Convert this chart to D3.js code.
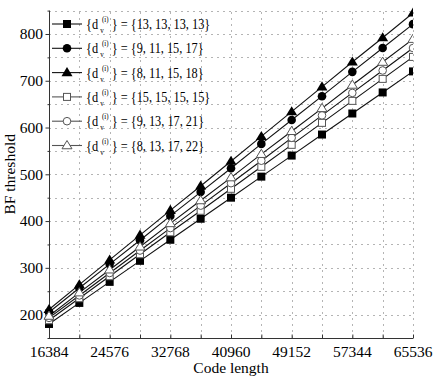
<!DOCTYPE html>
<html>
<head>
<meta charset="utf-8">
<script src="https://cdn.jsdelivr.net/npm/d3@7"></script>
<style>
  body { margin: 0; background: #fff; }
  text { font-family: "Liberation Serif", "Times New Roman", serif; }
</style>
</head>
<body>
<svg id="chart" width="436" height="382"></svg>
<script>
const codeLengths = [16384, 20480, 24576, 28672, 32768, 36864, 40960, 45056, 49152, 53248, 57344, 61440, 65536]
const xTickLabels = [16384, 24576, 32768, 40960, 49152, 57344, 65536]
const yTickLabels = [200, 300, 400, 500, 600, 700, 800]

const dv13 = [180, 225, 270, 315, 360, 405, 450, 495, 540, 585, 630, 675, 720]
const dv9_11 = [205, 257, 308, 359, 411, 462, 513, 565, 616, 667, 719, 770, 821]
const dv8_11 = [211, 264, 317, 370, 423, 475, 528, 581, 634, 687, 740, 792, 845]
const dv15 = [188, 235, 282, 329, 376, 422, 469, 516, 563, 610, 657, 704, 751]
const dv9_13 = [193, 241, 289, 337, 385, 433, 481, 529, 578, 626, 674, 722, 770]
const dv8_13 = [197, 247, 296, 345, 395, 444, 493, 543, 592, 641, 691, 740, 789]

const seriesNames = ["13, 13, 13, 13", "9, 11, 15, 17", "8, 11, 15, 18", "15, 15, 15, 15", "9, 13, 17, 21", "8, 13, 17, 22"]
const seriesValues = [dv13, dv9_11, dv8_11, dv15, dv9_13, dv8_13]
const markers = ["square", "circle", "triangle", "square-open", "circle-open", "triangle-open"]

const margin = { left: 49, right: 23, top: 10.6, bottom: 44 }
const width = 436, height = 382

const svg = d3.select("#chart")
const x = d3.scaleLinear().domain([16384, 65536]).range([margin.left, width - margin.right])
const y = d3.scaleLinear().domain([150, 850]).range([height - margin.bottom, margin.top])

// grid
const grid = svg.append("g")
  .attr("stroke", "#b4b4b4")
  .attr("stroke-width", 1)
  .attr("stroke-dasharray", "2,4")
grid.selectAll("line.gx")
  .data(d3.range(16384 + 4096, 65536 + 1, 4096))
  .join("line")
  .attr("x1", d => Math.round(x(d)) + 0.5)
  .attr("x2", d => Math.round(x(d)) + 0.5)
  .attr("y1", y(150))
  .attr("y2", y(850))
grid.selectAll("line.gy")
  .data(d3.range(200, 851, 50))
  .join("line")
  .attr("class", "gy")
  .attr("x1", x(16384))
  .attr("x2", x(65536))
  .attr("y1", d => Math.round(y(d)) + 0.5)
  .attr("y2", d => Math.round(y(d)) + 0.5)

// axes
const xAxis = svg.append("g")
  .attr("transform", `translate(0,${Math.round(y(150)) + 0.5})`)
  .call(d3.axisBottom(x).tickValues(d3.range(16384, 65537, 4096)).tickSize(-4).tickFormat(""))
xAxis.selectAll("line, path").attr("stroke", "#333")
xAxis.select(".domain").attr("d", `M${x(16384)},0H${x(65536)}`)

svg.append("g")
  .selectAll("text")
  .data(xTickLabels)
  .join("text")
  .attr("x", d => x(d))
  .attr("y", y(150) + 19)
  .attr("text-anchor", "middle")
  .attr("font-size", 15.5)
  .text(d => d)

const yAxis = svg.append("g")
  .attr("transform", `translate(${Math.round(x(16384)) + 0.5},0)`)
  .call(d3.axisLeft(y).tickValues(d3.range(150, 851, 50)).tickSize(4).tickFormat(""))
yAxis.selectAll("line, path").attr("stroke", "#333")
yAxis.selectAll(".tick line").attr("x2", d => d % 100 === 0 ? -4 : -2)
yAxis.select(".domain").attr("d", `M0,${y(150)}V${y(850)}`)

svg.append("g")
  .selectAll("text")
  .data(yTickLabels)
  .join("text")
  .attr("x", x(16384) - 6)
  .attr("y", d => y(d))
  .attr("dy", "0.35em")
  .attr("text-anchor", "end")
  .attr("font-size", 15.5)
  .text(d => d)

svg.append("text")
  .attr("x", (x(16384) + x(65536)) / 2)
  .attr("y", 373)
  .attr("text-anchor", "middle")
  .attr("font-size", 15.5)
  .text("Code length")

svg.append("text")
  .attr("transform", `translate(15,${y(500)}) rotate(-90)`)
  .attr("text-anchor", "middle")
  .attr("font-size", 15.5)
  .text("BF threshold")

// markers
function drawMarker(g, type, cx, cy) {
  const filled = !type.endsWith("open")
  const fill = filled ? "#000" : "#fff"
  const stroke = filled ? "#000" : "#555"
  if (type.startsWith("square")) {
    const s = filled ? 8 : 7
    g.append("rect").attr("x", cx - s / 2).attr("y", cy - s / 2).attr("width", s).attr("height", s)
      .attr("fill", fill).attr("stroke", stroke).attr("stroke-width", filled ? 0 : 1)
  } else if (type.startsWith("circle")) {
    g.append("circle").attr("cx", cx).attr("cy", cy).attr("r", filled ? 4.3 : 3.8)
      .attr("fill", fill).attr("stroke", stroke).attr("stroke-width", filled ? 0 : 1)
  } else {
    const r = filled ? 5.5 : 5
    g.append("path")
      .attr("d", `M${cx},${cy - r}L${cx + r},${cy + r * 0.65}L${cx - r},${cy + r * 0.65}Z`)
      .attr("fill", fill).attr("stroke", stroke).attr("stroke-width", filled ? 0 : 1)
  }
}

svg.append("clipPath").attr("id", "plotClip")
  .append("rect")
  .attr("x", x(16384) - 6).attr("y", 0)
  .attr("width", x(65536) - x(16384) + 6).attr("height", y(150) + 6)

const plot = svg.append("g").attr("clip-path", "url(#plotClip)")
const line = d3.line().x((d, i) => x(codeLengths[i])).y(d => y(d))

seriesValues.forEach((vals, si) => {
  plot.append("path")
    .datum(vals)
    .attr("d", line)
    .attr("fill", "none")
    .attr("stroke", "#111")
    .attr("stroke-width", 1.1)
})
seriesValues.forEach((vals, si) => {
  const g = plot.append("g")
  vals.forEach((v, i) => drawMarker(g, markers[si], x(codeLengths[i]), y(v)))
})

// legend (text is a bit condensed in the original)
const legend = svg.append("g")
seriesNames.forEach((name, i) => {
  const ly = 24 + i * 24.3
  const g = legend.append("g")
  g.append("line").attr("x1", 52).attr("x2", 82).attr("y1", ly).attr("y2", ly)
    .attr("stroke", i < 3 ? "#111" : "#555").attr("stroke-width", 1.1)
  drawMarker(g, markers[i], 67, ly)
  const tg = g.append("g").attr("transform", `translate(86,${ly + 5}) scale(0.82,1)`)
  tg.append("text").attr("font-size", 15).text("{d")
  tg.append("text").attr("x", 17.5).attr("y", 4).attr("font-size", 8.5).text("v")
  tg.append("text").attr("x", 19.5).attr("y", -7).attr("font-size", 8.5).text("(i)")
  tg.append("text").attr("x", 31.5).attr("font-size", 15).text("} = {" + name + "}")
})
</script>
</body>
</html>
